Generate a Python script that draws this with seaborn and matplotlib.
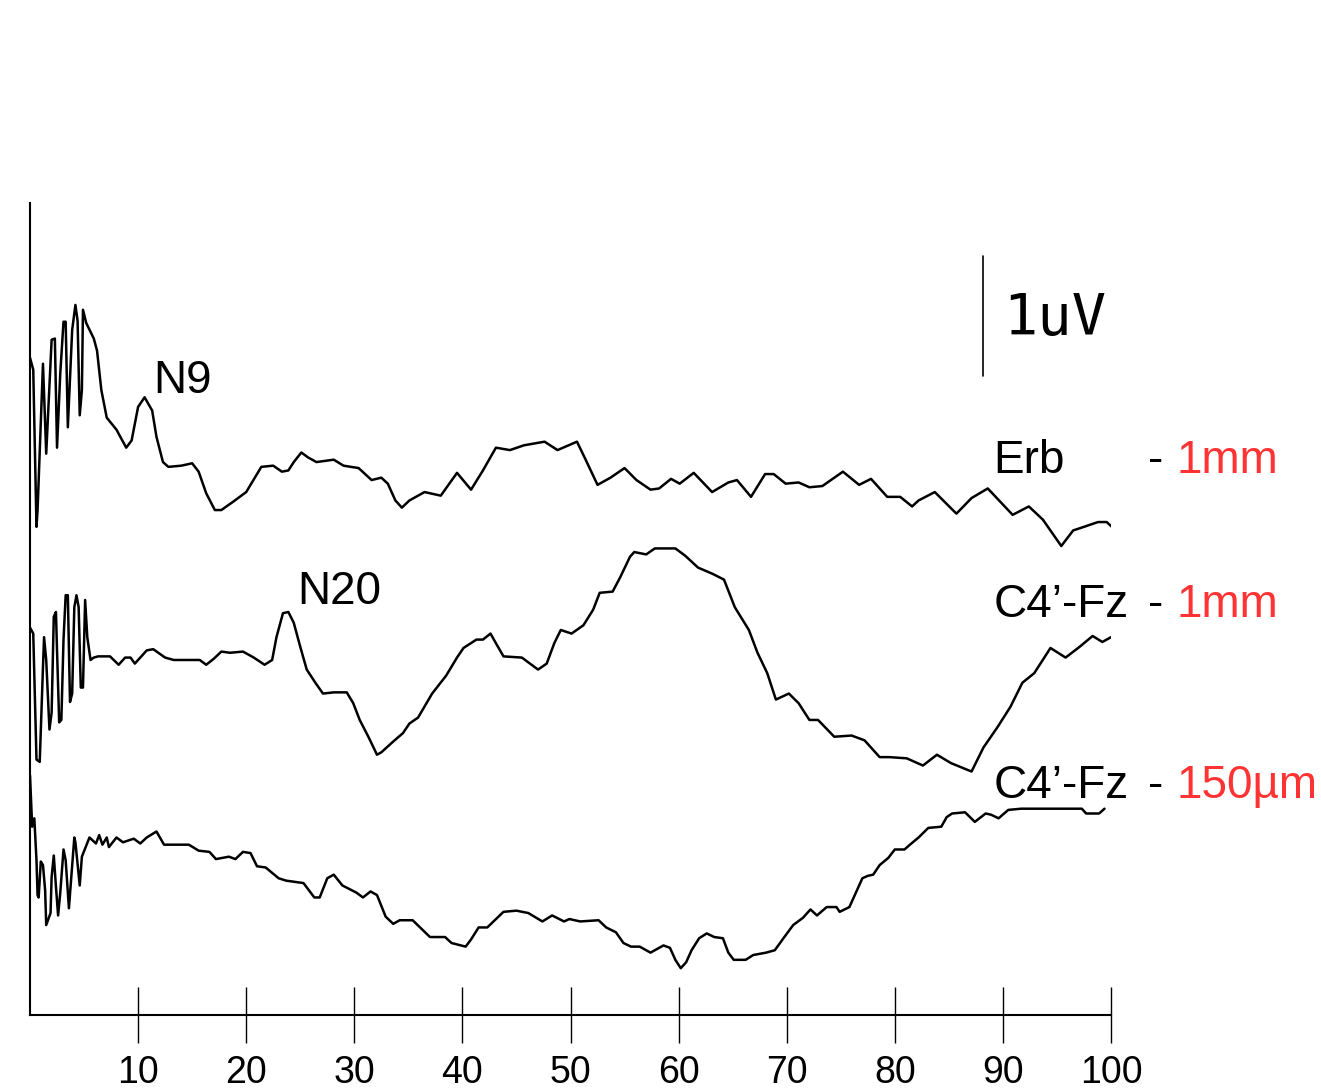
import numpy as np
import pandas as pd
import seaborn as sns
import matplotlib
matplotlib.use('Agg')
import matplotlib.pyplot as plt

# latency (ms) and amplitude (uV, traces stacked on one axis)
erb_ms = [0.0, 0.3, 0.6, 0.7, 1.2, 1.5, 2.0, 2.3, 2.5, 2.8, 3.1, 3.3, 3.5, 3.9, 4.2, 4.4, 4.6, 4.8, 4.9, 5.2,
          5.9, 6.2, 6.6, 7.1, 8.0, 8.9, 9.4, 10.0, 10.6, 11.3, 11.7, 12.3, 12.8, 14.0, 15.0, 15.6, 16.3, 17.1,
          17.7, 18.8, 20.0, 21.4, 22.5, 23.3, 23.9, 24.4, 25.1, 25.7, 26.5, 28.1, 29.0, 30.4, 31.6, 32.5, 33.1,
          33.8, 34.4, 35.1, 36.5, 38.0, 39.5, 40.8, 41.9, 43.1, 44.4, 45.7, 47.6, 48.8, 50.6, 51.4, 52.5, 53.7,
          55.0, 56.1, 57.4, 58.2, 59.3, 60.1, 61.4, 63.1, 64.6, 65.4, 66.7, 68.0, 68.8, 69.9, 71.1, 72.1, 73.3,
          75.2, 76.7, 77.8, 79.3, 80.5, 81.6, 82.2, 83.7, 85.7, 87.1, 88.6, 90.9, 92.4, 93.7, 95.4, 96.5, 97.5,
          98.8, 99.6, 100.2]
erb_uv = [5.48, 5.38, 4.07, 4.21, 5.43, 4.68, 5.63, 5.64, 4.73, 5.35, 5.78, 5.78, 4.90, 5.71, 5.92, 5.79, 5.00,
          5.21, 5.88, 5.77, 5.64, 5.54, 5.21, 4.98, 4.88, 4.73, 4.79, 5.07, 5.15, 5.04, 4.82, 4.61, 4.57, 4.58,
          4.60, 4.53, 4.35, 4.21, 4.21, 4.28, 4.36, 4.57, 4.58, 4.53, 4.54, 4.61, 4.69, 4.65, 4.61, 4.63, 4.58,
          4.56, 4.46, 4.48, 4.43, 4.29, 4.23, 4.29, 4.36, 4.33, 4.52, 4.38, 4.54, 4.73, 4.71, 4.75, 4.78, 4.71,
          4.78, 4.63, 4.42, 4.48, 4.56, 4.46, 4.38, 4.39, 4.47, 4.43, 4.52, 4.36, 4.44, 4.46, 4.32, 4.51, 4.51,
          4.43, 4.44, 4.40, 4.41, 4.53, 4.42, 4.47, 4.32, 4.32, 4.24, 4.29, 4.36, 4.18, 4.31, 4.39, 4.17, 4.24,
          4.13, 3.91, 4.04, 4.07, 4.11, 4.11, 4.06]

c4_1mm_ms = [0.0, 0.3, 0.6, 0.9, 1.2, 1.3, 1.5, 1.8, 2.0, 2.2, 2.4, 2.5, 2.7, 2.9, 3.1, 3.3, 3.5, 3.7, 3.9, 4.1,
             4.3, 4.5, 4.7, 4.9, 5.1, 5.3, 5.6, 5.9, 6.3, 7.4, 8.2, 8.8, 9.3, 9.7, 10.2, 10.8, 11.4, 12.5, 13.3,
             15.0, 15.7, 16.3, 17.0, 17.7, 18.5, 19.7, 20.7, 21.7, 22.4, 22.8, 23.4, 23.9, 24.4, 25.0, 25.6,
             26.4, 27.1, 28.1, 29.3, 29.9, 30.5, 31.3, 32.1, 32.5, 33.6, 34.5, 35.1, 35.9, 37.2, 38.5, 39.5,
             40.1, 41.3, 41.9, 42.6, 43.1, 43.8, 45.5, 47.0, 47.8, 48.5, 49.1, 50.1, 51.2, 52.1, 52.7, 53.9,
             54.6, 55.5, 55.9, 57.0, 57.8, 59.7, 60.6, 61.8, 63.1, 64.2, 65.2, 66.5, 67.3, 68.2, 69.0, 70.2,
             71.1, 72.1, 72.9, 74.4, 76.0, 77.2, 78.6, 79.5, 81.1, 82.6, 83.9, 85.2, 87.1, 88.2, 89.5, 90.7,
             91.8, 92.9, 94.4, 95.8, 97.1, 98.3, 99.2, 100.0]
c4_1mm_uv = [3.23, 3.18, 2.13, 2.11, 2.90, 3.15, 2.96, 2.38, 2.52, 3.32, 3.36, 3.04, 2.44, 2.46, 3.13, 3.50,
             3.50, 2.61, 2.68, 3.40, 3.50, 3.40, 2.73, 2.73, 3.46, 3.15, 2.96, 2.98, 2.99, 2.99, 2.92, 2.98,
             2.98, 2.93, 2.98, 3.04, 3.05, 2.98, 2.96, 2.96, 2.96, 2.92, 2.97, 3.03, 3.02, 3.03, 2.98, 2.92,
             2.96, 3.15, 3.35, 3.36, 3.27, 3.07, 2.88, 2.77, 2.68, 2.69, 2.69, 2.60, 2.46, 2.32, 2.17, 2.19,
             2.28, 2.35, 2.43, 2.48, 2.68, 2.83, 2.98, 3.06, 3.13, 3.13, 3.18, 3.10, 2.99, 2.98, 2.88, 2.93,
             3.10, 3.21, 3.18, 3.25, 3.38, 3.52, 3.53, 3.65, 3.82, 3.86, 3.84, 3.89, 3.89, 3.83, 3.73, 3.68,
             3.63, 3.40, 3.21, 3.02, 2.85, 2.63, 2.68, 2.60, 2.46, 2.46, 2.32, 2.33, 2.29, 2.15, 2.15, 2.14,
             2.08, 2.17, 2.10, 2.03, 2.23, 2.40, 2.57, 2.77, 2.85, 3.06, 2.98, 3.07, 3.16, 3.11, 3.15]

c4_150um_ms = [0.0, 0.2, 0.4, 0.6, 0.7, 0.8, 1.0, 1.2, 1.4, 1.5, 1.9, 2.0, 2.2, 2.4, 2.6, 2.8, 3.1, 3.3, 3.6,
               3.8, 4.1, 4.2, 4.6, 4.8, 5.5, 6.1, 6.4, 6.7, 7.1, 7.3, 8.0, 8.6, 9.6, 10.2, 10.8, 11.7, 12.4,
               14.7, 15.6, 16.6, 17.2, 18.4, 19.0, 19.7, 20.4, 21.0, 21.8, 23.0, 23.7, 25.3, 26.3, 26.8, 27.5,
               28.1, 28.9, 30.2, 30.8, 31.5, 32.1, 32.9, 33.6, 34.2, 35.4, 37.0, 38.4, 39.0, 40.3, 40.8, 41.5,
               42.3, 43.8, 45.0, 46.1, 47.4, 48.3, 49.4, 49.9, 50.9, 52.6, 53.3, 54.2, 54.9, 55.6, 56.4, 57.4,
               58.6, 59.2, 59.7, 60.2, 60.7, 61.2, 61.9, 62.6, 63.3, 64.1, 64.6, 65.1, 66.2, 66.9, 68.1, 68.9,
               69.7, 70.6, 71.5, 72.2, 72.8, 73.7, 74.6, 74.9, 75.8, 76.4, 77.0, 77.5, 78.0, 78.6, 79.4, 80.0,
               80.9, 81.4, 82.2, 83.1, 84.3, 84.8, 85.3, 86.5, 87.4, 88.4, 88.9, 89.6, 90.5, 91.7, 97.3, 97.7,
               98.9, 99.4]
c4_150um_uv = [2.00, 1.57, 1.64, 1.29, 1.00, 0.98, 1.28, 1.25, 1.04, 0.75, 0.85, 1.15, 1.33, 1.07, 0.83, 1.02,
               1.38, 1.29, 0.89, 1.13, 1.48, 1.44, 1.08, 1.32, 1.48, 1.43, 1.50, 1.42, 1.48, 1.40, 1.48, 1.44,
               1.47, 1.43, 1.48, 1.53, 1.42, 1.42, 1.37, 1.36, 1.30, 1.32, 1.30, 1.36, 1.35, 1.24, 1.23, 1.14,
               1.12, 1.10, 0.98, 0.98, 1.14, 1.17, 1.08, 1.02, 0.98, 1.03, 1.00, 0.82, 0.76, 0.79, 0.79, 0.65,
               0.65, 0.60, 0.57, 0.63, 0.73, 0.73, 0.86, 0.87, 0.85, 0.78, 0.83, 0.78, 0.80, 0.78, 0.79, 0.73,
               0.69, 0.60, 0.57, 0.57, 0.52, 0.58, 0.56, 0.46, 0.39, 0.44, 0.54, 0.64, 0.68, 0.65, 0.64, 0.52,
               0.46, 0.46, 0.50, 0.52, 0.54, 0.64, 0.75, 0.81, 0.88, 0.83, 0.90, 0.90, 0.86, 0.90, 1.02, 1.14,
               1.16, 1.17, 1.25, 1.31, 1.38, 1.38, 1.42, 1.48, 1.56, 1.57, 1.65, 1.68, 1.69, 1.61, 1.68, 1.67,
               1.64, 1.71, 1.72, 1.72, 1.68, 1.68, 1.72]

trace_names = ["Erb", "C4\u2019-Fz", "C4\u2019-Fz"]
trace_sizes = ["1mm", "1mm", "150\u00b5m"]
x_ticks = [10, 20, 30, 40, 50, 60, 70, 80, 90, 100]

sns.set_style("ticks")
plt.rcParams['font.family'] = ['Liberation Sans', 'DejaVu Sans']
plt.rcParams['text.color'] = 'black'

fig = plt.figure(figsize=(13.21, 10.89), dpi=100)
ax = fig.add_axes([30 / 1321, 74 / 1089, 1081 / 1321, 812 / 1089])

traces = [(erb_ms, erb_uv), (c4_1mm_ms, c4_1mm_uv), (c4_150um_ms, c4_150um_uv)]
for ms, uv in traces:
    sns.lineplot(x=ms, y=uv, ax=ax, color="black", linewidth=1.8, sort=False, estimator=None)

ax.set_xlim(0, 100)
ax.set_ylim(0, 6.77)
ax.set_xticks(x_ticks)
ax.set_xticklabels([str(t) for t in x_ticks], fontsize=27)
ax.set_yticks([])
ax.tick_params(axis="x", direction="inout", length=40, width=1.0, pad=9, colors="black")
for s in ["top", "right"]:
    ax.spines[s].set_visible(False)
for s in ["left", "bottom"]:
    ax.spines[s].set_linewidth(1.5)
    ax.spines[s].set_color("black")

# peak labels
ax.text(11.4, 5.19, "N9", fontsize=33, va="baseline", color="black")
ax.text(24.7, 3.43, "N20", fontsize=33, va="baseline", color="black")

# 1 uV scale bar
ax.plot([88.2, 88.2], [5.33, 6.33], color="black", linewidth=1.2, clip_on=False)
ax.text(90.0, 5.67, "1uV", fontsize=41, va="baseline", family="DejaVu Sans Mono", color="black")

# trace labels
baselines = [4.52, 3.32, 1.81]
for name, size, yb in zip(trace_names, trace_sizes, baselines):
    ax.text(89.1, yb, name, fontsize=33, va="baseline", color="black", clip_on=False)
    ax.text(103.4, yb, "-", fontsize=33, va="baseline", color="black", clip_on=False)
    ax.text(106.1, yb, size, fontsize=33, va="baseline", color="#ff3333", clip_on=False)

fig.savefig("out.png", dpi=100)
